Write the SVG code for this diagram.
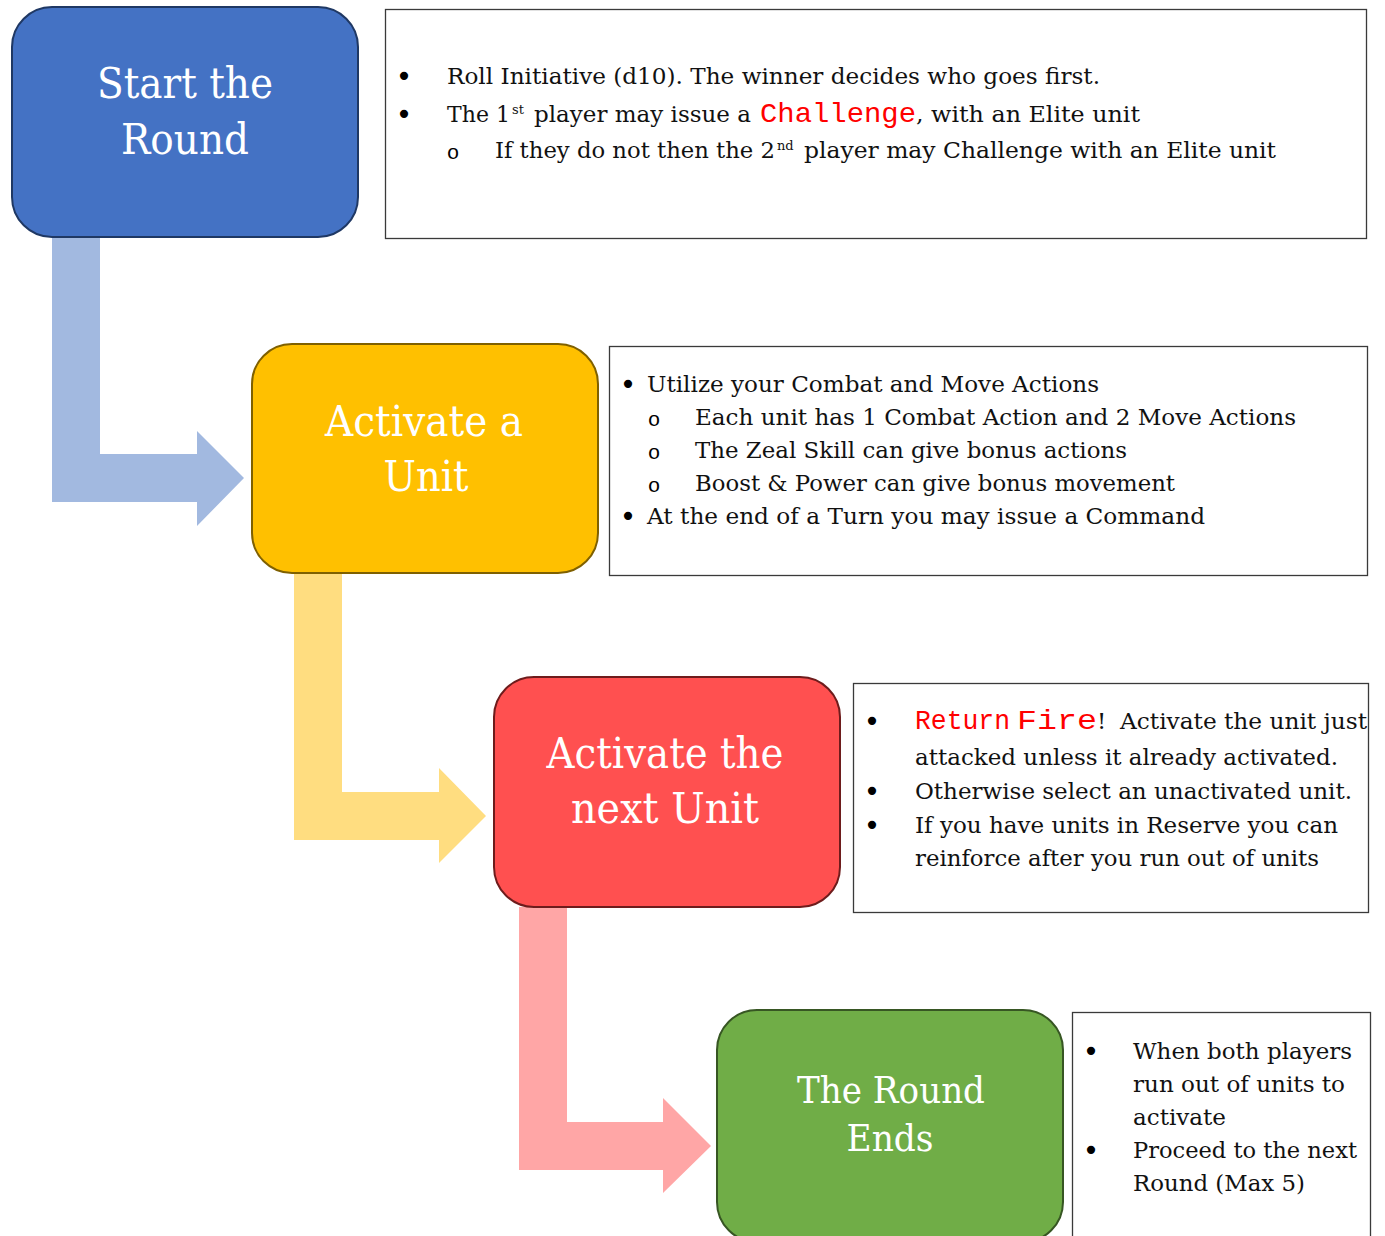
<svg xmlns="http://www.w3.org/2000/svg" width="1385" height="1236" viewBox="0 0 1385 1236">
<style>
.title{font-family:"DejaVu Serif","Liberation Serif",serif;font-size:42px;fill:#ffffff;text-anchor:middle}
.t{font-family:"DejaVu Serif","Liberation Serif",serif;font-size:23px;fill:#111111}
.t1{font-family:"DejaVu Serif","Liberation Serif",serif;font-size:22px;fill:#111111}
.sup{font-family:"DejaVu Serif","Liberation Serif",serif;font-size:13px;fill:#111111}
.mono{font-family:"Liberation Mono","DejaVu Sans Mono",monospace;font-size:28px;fill:#ff0000}
.bul{font-family:"DejaVu Sans",sans-serif;font-size:28px;fill:#000;text-anchor:middle}
.sub{font-family:"Liberation Mono",monospace;font-size:21px;fill:#000;text-anchor:middle}
.note{fill:#ffffff;stroke:#3a3a3a;stroke-width:1.3}
</style>
<rect width="1385" height="1236" fill="#ffffff"/>
<g id="connectors">
<polygon id="arrow-1" fill="#a2b9e0" points="52,237 100,237 100,454 197,454 197,431 244,478 197,526 197,502 52,502"/>
<polygon id="arrow-2" fill="#ffdd80" points="294,574 342,574 342,792 439,792 439,768 486,816 439,863 439,840 294,840"/>
<polygon id="arrow-3" fill="#ffa6a6" points="519,907 567,907 567,1122 663,1122 663,1098 711,1146 663,1193 663,1170 519,1170"/>
</g>
<g id="node-start">
<rect x="12" y="7" width="346" height="230" rx="40" fill="#4472c4" stroke="#1f3864" stroke-width="2"/>
<text class="title" x="185" y="98" textLength="176" lengthAdjust="spacingAndGlyphs">Start the</text>
<text class="title" x="185" y="154" textLength="128" lengthAdjust="spacingAndGlyphs">Round</text>
</g>
<g id="node-activate">
<rect x="252" y="344" width="346" height="229" rx="40" fill="#ffc000" stroke="#7f6000" stroke-width="2"/>
<text class="title" x="424" y="436" textLength="198" lengthAdjust="spacingAndGlyphs">Activate a</text>
<text class="title" x="426" y="491" textLength="85" lengthAdjust="spacingAndGlyphs">Unit</text>
</g>
<g id="node-next">
<rect x="494" y="677" width="346" height="230" rx="40" fill="#ff5050" stroke="#6e1c1c" stroke-width="2"/>
<text class="title" x="665" y="768" textLength="237" lengthAdjust="spacingAndGlyphs">Activate the</text>
<text class="title" x="665" y="823" textLength="188" lengthAdjust="spacingAndGlyphs">next Unit</text>
</g>
<g id="node-end">
<rect x="717" y="1010" width="346" height="232" rx="40" fill="#70ad47" stroke="#375623" stroke-width="2"/>
<text class="title" x="891" y="1103" style="font-size:37px" textLength="188" lengthAdjust="spacingAndGlyphs">The Round</text>
<text class="title" x="890" y="1151" style="font-size:37px" textLength="87" lengthAdjust="spacingAndGlyphs">Ends</text>
</g>
<g id="note-start">
<rect class="note" x="385.5" y="9.5" width="981" height="229"/>
<text class="bul" x="404" y="86">•</text>
<text class="t1" x="447" y="84" textLength="653" lengthAdjust="spacingAndGlyphs">Roll Initiative (d10).  The winner decides who goes first.</text>
<text class="bul" x="404" y="124">•</text>
<text class="t1" x="447" y="122" textLength="63" lengthAdjust="spacingAndGlyphs">The 1</text>
<text class="sup" x="512" y="114">st</text>
<text class="t1" x="534" y="122" textLength="217" lengthAdjust="spacingAndGlyphs">player may issue a</text>
<text class="mono" x="760" y="122" textLength="156" lengthAdjust="spacingAndGlyphs">Challenge</text>
<text class="t1" x="916" y="122" textLength="224" lengthAdjust="spacingAndGlyphs">, with an Elite unit</text>
<text class="sub" x="453" y="159">o</text>
<text class="t1" x="495" y="158" textLength="280" lengthAdjust="spacingAndGlyphs">If they do not then the 2</text>
<text class="sup" x="777" y="150">nd</text>
<text class="t1" x="804" y="158" textLength="472" lengthAdjust="spacingAndGlyphs">player may Challenge with an Elite unit</text>
</g>
<g id="note-activate">
<rect class="note" x="609.5" y="346.5" width="758" height="229"/>
<text class="bul" x="628" y="394">•</text>
<text class="t" x="647" y="392" textLength="452" lengthAdjust="spacingAndGlyphs">Utilize your Combat and Move Actions</text>
<text class="sub" x="654" y="426">o</text>
<text class="t" x="695" y="425" textLength="601" lengthAdjust="spacingAndGlyphs">Each unit has 1 Combat Action and 2 Move Actions</text>
<text class="sub" x="654" y="459">o</text>
<text class="t" x="695" y="458" textLength="432" lengthAdjust="spacingAndGlyphs">The Zeal Skill can give bonus actions</text>
<text class="sub" x="654" y="492">o</text>
<text class="t" x="695" y="491" textLength="480" lengthAdjust="spacingAndGlyphs">Boost &amp; Power can give bonus movement</text>
<text class="bul" x="628" y="526">•</text>
<text class="t" x="647" y="524" textLength="558" lengthAdjust="spacingAndGlyphs">At the end of a Turn you may issue a Command</text>
</g>
<g id="note-next">
<rect class="note" x="853.5" y="683.5" width="515" height="229"/>
<text class="bul" x="872" y="731">•</text>
<text class="mono" x="915" y="729" textLength="95" lengthAdjust="spacingAndGlyphs">Return</text>
<text class="mono" x="1017" y="729" textLength="80" lengthAdjust="spacingAndGlyphs">Fire</text>
<text class="t" x="1097" y="729">!</text>
<text class="t" x="1120" y="729" textLength="247" lengthAdjust="spacingAndGlyphs">Activate the unit just</text>
<text class="t" x="915" y="765" textLength="423" lengthAdjust="spacingAndGlyphs">attacked unless it already activated.</text>
<text class="bul" x="872" y="801">•</text>
<text class="t" x="915" y="799" textLength="437" lengthAdjust="spacingAndGlyphs">Otherwise select an unactivated unit.</text>
<text class="bul" x="872" y="835">•</text>
<text class="t" x="915" y="833" textLength="423" lengthAdjust="spacingAndGlyphs">If you have units in Reserve you can</text>
<text class="t" x="915" y="866" textLength="404" lengthAdjust="spacingAndGlyphs">reinforce after you run out of units</text>
</g>
<g id="note-end">
<rect class="note" x="1072.5" y="1012.5" width="298" height="240"/>
<text class="bul" x="1091" y="1061">•</text>
<text class="t" x="1133" y="1059" textLength="219" lengthAdjust="spacingAndGlyphs">When both players</text>
<text class="t" x="1133" y="1092" textLength="212" lengthAdjust="spacingAndGlyphs">run out of units to</text>
<text class="t" x="1133" y="1125" textLength="93" lengthAdjust="spacingAndGlyphs">activate</text>
<text class="bul" x="1091" y="1160">•</text>
<text class="t" x="1133" y="1158" textLength="224" lengthAdjust="spacingAndGlyphs">Proceed to the next</text>
<text class="t" x="1133" y="1191" textLength="172" lengthAdjust="spacingAndGlyphs">Round (Max 5)</text>
</g>
</svg>
